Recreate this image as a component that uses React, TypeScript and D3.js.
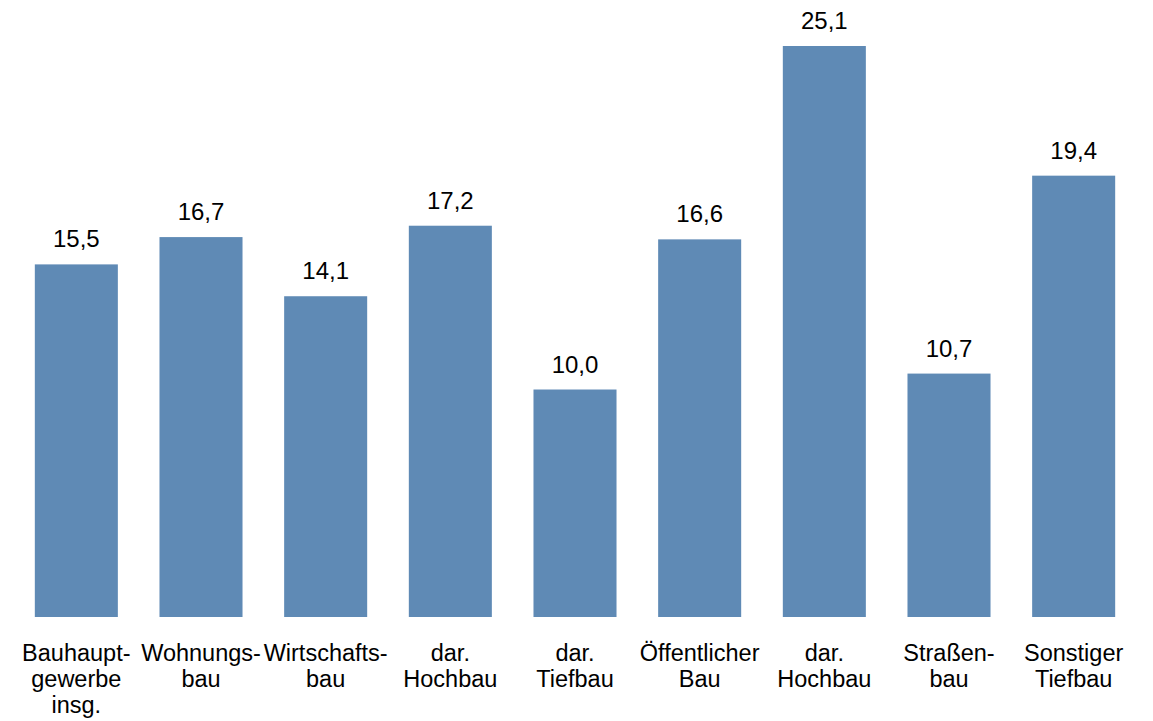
import * as d3 from "d3"
import { useRef, useEffect } from "react"

const categories = [
  ["Bauhaupt-", "gewerbe", "insg."],
  ["Wohnungs-", "bau"],
  ["Wirtschafts-", "bau"],
  ["dar.", "Hochbau"],
  ["dar.", "Tiefbau"],
  ["Öffentlicher", "Bau"],
  ["dar.", "Hochbau"],
  ["Straßen-", "bau"],
  ["Sonstiger", "Tiefbau"],
]
const values = [15.5, 16.7, 14.1, 17.2, 10.0, 16.6, 25.1, 10.7, 19.4]

const width = 1153
const height = 721
const barColor = "#5f8ab5"
const font = "'Liberation Sans', Arial, sans-serif"

export default function App() {
  const svgRef = useRef<SVGSVGElement>(null)

  useEffect(() => {
    if (!svgRef.current) return
    const svg = d3.select(svgRef.current)
    svg.selectAll("*").remove()

    const baseline = 617
    const idx = values.map((_, i) => String(i))

    const xScale = d3
      .scaleBand()
      .domain(idx)
      .range([14, 1136])
      .paddingInner(0.334)
      .paddingOuter(0.167)

    const yScale = d3.scaleLinear().domain([0, 25.1]).range([baseline, 46])

    svg
      .append("g")
      .selectAll("rect")
      .data(values)
      .enter()
      .append("rect")
      .attr("x", (_, i) => xScale(String(i)) ?? 0)
      .attr("y", (d) => yScale(d))
      .attr("width", xScale.bandwidth())
      .attr("height", (d) => baseline - yScale(d))
      .attr("fill", barColor)

    svg
      .append("g")
      .selectAll("text")
      .data(values)
      .enter()
      .append("text")
      .attr("x", (_, i) => (xScale(String(i)) ?? 0) + xScale.bandwidth() / 2)
      .attr("y", (d) => yScale(d) - 17)
      .attr("text-anchor", "middle")
      .style("font-family", font)
      .style("font-size", "24px")
      .style("fill", "#000")
      .text((d) => d.toFixed(1).replace(".", ","))

    const labels = svg.append("g")
    categories.forEach((lines, i) => {
      const cx = (xScale(String(i)) ?? 0) + xScale.bandwidth() / 2
      const t = labels
        .append("text")
        .attr("x", cx)
        .attr("y", baseline + 44)
        .attr("text-anchor", "middle")
        .style("font-family", font)
        .style("font-size", "23.5px")
        .style("fill", "#000")
      lines.forEach((line, j) => {
        t.append("tspan")
          .attr("x", cx)
          .attr("dy", j === 0 ? 0 : 26)
          .text(line)
      })
    })
  }, [])

  return (
    <div style={{ position: "absolute", left: 0, top: 0 }}>
      <svg ref={svgRef} width={width} height={height}></svg>
    </div>
  )
}
